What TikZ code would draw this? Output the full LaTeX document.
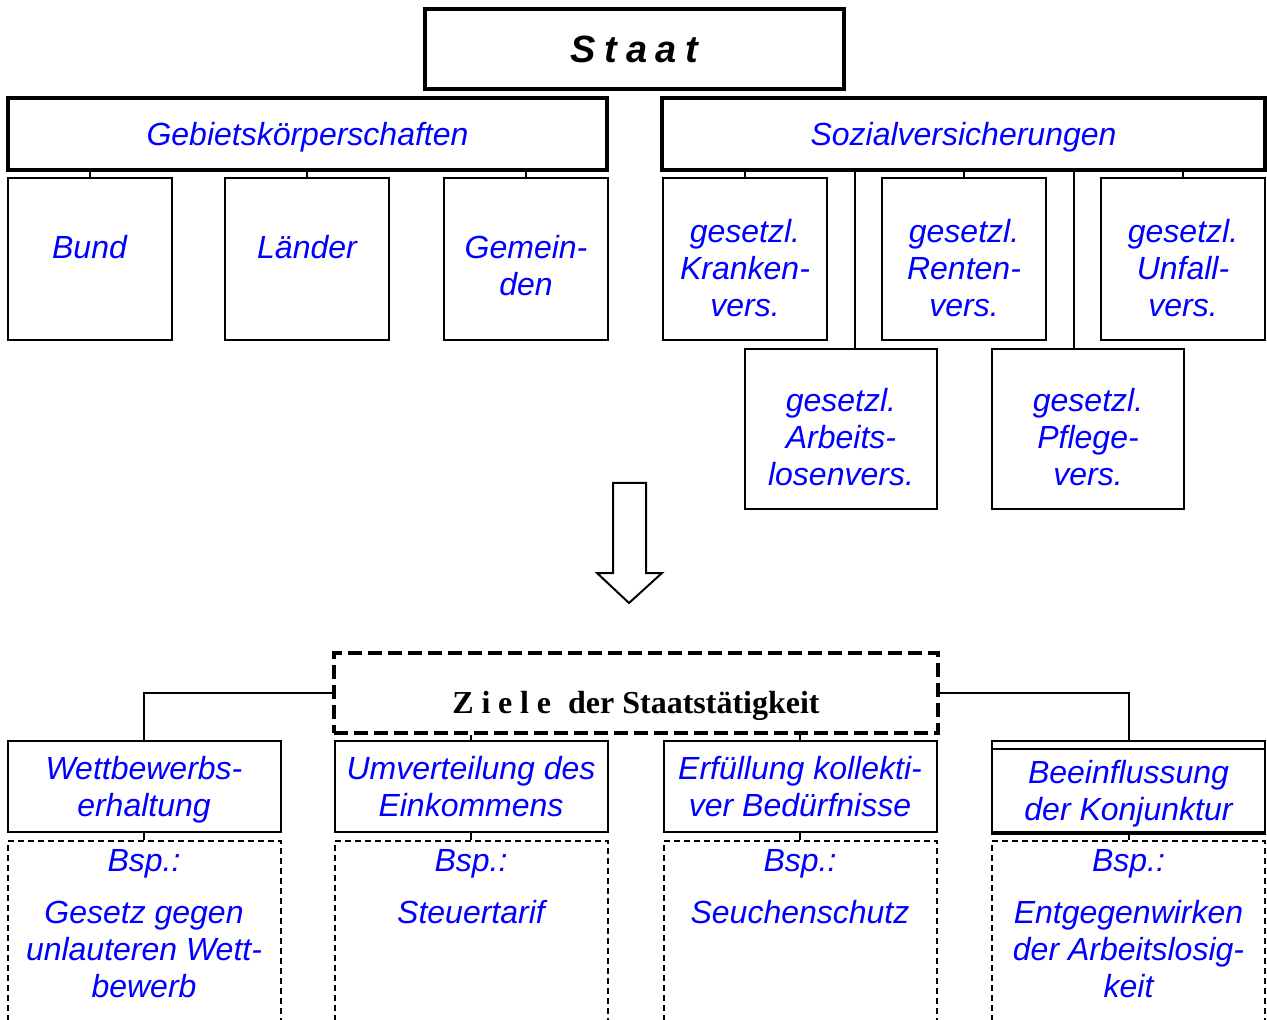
\documentclass[tikz,border=0pt]{standalone}
\usepackage{fontspec}
\setmainfont{Liberation Sans}
\newfontfamily\zielefont{Liberation Serif}
\begin{document}
\begin{tikzpicture}[x=.5pt, y=-.5pt, line width=1pt,
  txt/.style={inner sep=0pt, text=blue, align=center, font=\itshape\fontsize{16}{18.5}\selectfont},
  box/.style={draw, inner sep=0pt},
  kopf/.style={box, txt, line width=2pt},
  bsp/.style={draw, line width=1pt, dash pattern=on 3pt off 2pt},
  bsptext/.style={txt, anchor=north, inner sep=4pt}]
\clip(0,0)rectangle(1267,1020);

\node[draw, line width=2pt, minimum width=209.5pt, minimum height=40pt, font=\bfseries\itshape\fontsize{19}{22}\selectfont](staat) at (634.5,49){S\hspace{4.4pt}t\hspace{4.4pt}a\hspace{4.4pt}a\hspace{4.4pt}t};
\node[kopf, minimum width=299.5pt, minimum height=36pt, text height=14.5pt](gebiet) at (307.5,134){Gebietskörperschaften};
\node[kopf, minimum width=301.5pt, minimum height=36pt, text height=14.5pt](sozial) at (963.5,134){Sozialversicherungen};

\foreach \n/\x/\s/\t in {bund/89.5/6/Bund, laender/307/6/Länder, gemeinden/526/-3.25/{Gemein-\\den},
  kranken/745/-4.5/{gesetzl.\\Kranken-\\vers.}, renten/964/-4.5/{gesetzl.\\Renten-\\vers.}, unfall/1183/-4.5/{gesetzl.\\Unfall-\\vers.}}
{
  \node[box, minimum width=82pt, minimum height=81pt](\n) at (\x,259){};
  \node[txt, yshift=\s pt](\n t) at (\n){\t};
}
\foreach \n/\x/\t in {arbeit/841/{gesetzl.\\Arbeits-\\losenvers.}, pflege/1088/{gesetzl.\\Pflege-\\vers.}}
{
  \node[box, minimum width=96pt, minimum height=80pt](\n) at (\x,429){};
  \node[txt, yshift=-4pt](\n t) at (\n){\t};
}

\foreach \n in {bund,laender,gemeinden}
  \draw(gebiet.south -| \n.north)--(\n.north);
\foreach \n in {kranken,renten,unfall}
  \draw(sozial.south -| \n.north)--(\n.north);
\foreach \n/\x in {arbeit/855,pflege/1074}
{
  \coordinate(\n l) at (\x,0);
  \draw(sozial.south -| \n l)--(\n.north -| \n l);
}

\draw(613,483)--(646,483)--(646,573)--(662,573)--(629,603)--(597,573)--(613,573)--cycle;

\node[draw, line width=2pt, dash pattern=on 7pt off 3pt, minimum width=302pt, minimum height=40pt, text height=24pt,
  font=\zielefont\bfseries\fontsize{16}{19}\selectfont](ziele) at (636,693)
  {Z\hspace{3.9pt}i\hspace{3.9pt}e\hspace{3.9pt}l\hspace{3.9pt}e\hspace{8.5pt}der Staatstätigkeit};

\foreach \n/\x/\s/\t in {wett/144/-1.5/{Wettbewerbs-\\erhaltung}, umv/471/0/{Umverteilung des\\Einkommens},
  erf/800/0/{Erfüllung kollekti-\\ver Bedürfnisse}, beein/1128.5/-3.5/{Beeinflussung\\der Konjunktur}}
{
  \node[box, minimum width=136.5pt, minimum height=45.5pt](\n) at (\x,786.5){};
  \node[txt, yshift=\s pt](\n t) at (\n){\t};
}
\draw([yshift=-4.5pt]beein.north west)--([yshift=-4.5pt]beein.north east);
\draw[line width=2pt](beein.south west)--(beein.south east);

\draw(ziele.west)-|(wett.north);
\draw(ziele.east)-|(beein.north);
\foreach \n in {umv,erf}
  \draw(ziele.south -| \n.north)--(\n.north);

\foreach \n/\x/\t in {wett/144/{Gesetz gegen\\unlauteren Wett-\\bewerb}, umv/471/Steuertarif,
  erf/800/Seuchenschutz, beein/1128.5/{Entgegenwirken\\der Arbeitslosig-\\keit}}
{
  \node[bsp, minimum width=136.5pt, minimum height=95pt](\n b) at (\x,936){};
  \node[bsptext](\n t) at (\n b.north){Bsp.:\\[7.5pt]\t};
  \draw(\n.south)--(\n b.north);
}
\end{tikzpicture}
\end{document}
